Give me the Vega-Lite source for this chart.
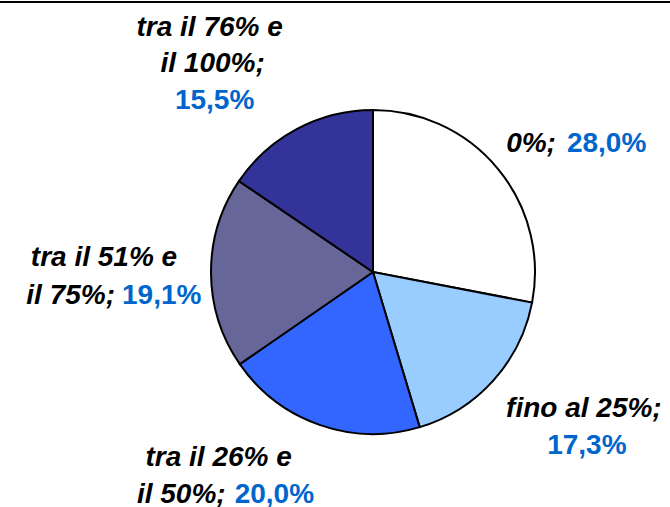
{
  "$schema": "https://vega.github.io/schema/vega-lite/v6.json",
  "autosize": {"type": "none"},
  "padding": {"left": -2, "top": 2, "right": -78, "bottom": -35},
  "width": 750,
  "height": 540,
  "background": "white",
  "config": {
    "view": {"stroke": null},
    "text": {"font": "Liberation Sans", "fontSize": 28, "fontWeight": "bold", "fontStyle": "italic", "baseline": "alphabetic", "radius": 210}
  },
  "data": {
    "values": [
      {"cat": "0%", "value": 28.0, "a": "0%;", "b": "", "pct": "28,0%"},
      {"cat": "fino al 25%", "value": 17.3, "a": "fino al 25%;", "b": "", "pct": "17,3%"},
      {"cat": "tra il 26% e il 50%", "value": 20.0, "a": "tra il 26% e", "b": "il 50%;", "pct": "20,0%"},
      {"cat": "tra il 51% e il 75%", "value": 19.1, "a": "tra il 51% e", "b": "il 75%;", "pct": "19,1%"},
      {"cat": "tra il 76% e il 100%", "value": 15.5, "a": "tra il 76% e", "b": "il 100%;", "pct": "15,5%"}
    ]
  },
  "layer": [
    {"mark": {"type": "rule", "color": "black", "strokeWidth": 2}, "encoding": {"y": {"value": 0}}},
    {
      "encoding": {
        "theta": {"field": "value", "type": "quantitative", "stack": true},
        "order": {"field": "cat", "type": "ordinal", "sort": "ascending"}
      },
      "layer": [
        {
          "mark": {"type": "arc", "outerRadius": 162, "stroke": "black", "strokeWidth": 2},
          "encoding": {
            "color": {"field": "cat", "type": "nominal", "legend": null,
              "scale": {"domain": ["0%", "fino al 25%", "tra il 26% e il 50%", "tra il 51% e il 75%", "tra il 76% e il 100%"],
                        "range": ["#FFFFFF", "#99CCFF", "#3366FF", "#666699", "#333399"]}}
          }
        },
        {"mark": {"type": "text", "align": "right", "dx": 21, "dy": 14, "color": "black"},
         "encoding": {"text": {"condition": {"test": "datum.cat === '0%'", "field": "a", "type": "nominal"}, "value": ""}}},
        {"mark": {"type": "text", "align": "left", "dx": 32, "dy": 14, "color": "#0066CC", "fontStyle": "normal"},
         "encoding": {"text": {"condition": {"test": "datum.cat === '0%'", "field": "pct", "type": "nominal"}, "value": ""}}},
        {"mark": {"type": "text", "align": "center", "dx": 55, "dy": 4, "color": "black"},
         "encoding": {"text": {"condition": {"test": "datum.cat === 'fino al 25%'", "field": "a", "type": "nominal"}, "value": ""}}},
        {"mark": {"type": "text", "align": "center", "dx": 58, "dy": 41, "color": "#0066CC", "fontStyle": "normal"},
         "encoding": {"text": {"condition": {"test": "datum.cat === 'fino al 25%'", "field": "pct", "type": "nominal"}, "value": ""}}},
        {"mark": {"type": "text", "align": "center", "dx": -85, "dy": -4, "color": "black"},
         "encoding": {"text": {"condition": {"test": "datum.cat === 'tra il 26% e il 50%'", "field": "a", "type": "nominal"}, "value": ""}}},
        {"mark": {"type": "text", "align": "right", "dx": -78, "dy": 33, "color": "black"},
         "encoding": {"text": {"condition": {"test": "datum.cat === 'tra il 26% e il 50%'", "field": "b", "type": "nominal"}, "value": ""}}},
        {"mark": {"type": "text", "align": "left", "dx": -69, "dy": 33, "color": "#0066CC", "fontStyle": "normal"},
         "encoding": {"text": {"condition": {"test": "datum.cat === 'tra il 26% e il 50%'", "field": "pct", "type": "nominal"}, "value": ""}}},
        {"mark": {"type": "text", "align": "center", "dx": -59, "dy": -7, "color": "black"},
         "encoding": {"text": {"condition": {"test": "datum.cat === 'tra il 51% e il 75%'", "field": "a", "type": "nominal"}, "value": ""}}},
        {"mark": {"type": "text", "align": "right", "dx": -48, "dy": 31, "color": "black"},
         "encoding": {"text": {"condition": {"test": "datum.cat === 'tra il 51% e il 75%'", "field": "b", "type": "nominal"}, "value": ""}}},
        {"mark": {"type": "text", "align": "left", "dx": -41, "dy": 31, "color": "#0066CC", "fontStyle": "normal"},
         "encoding": {"text": {"condition": {"test": "datum.cat === 'tra il 51% e il 75%'", "field": "pct", "type": "nominal"}, "value": ""}}},
        {"mark": {"type": "text", "align": "center", "dx": -65, "dy": -50, "color": "black"},
         "encoding": {"text": {"condition": {"test": "datum.cat === 'tra il 76% e il 100%'", "field": "a", "type": "nominal"}, "value": ""}}},
        {"mark": {"type": "text", "align": "center", "dx": -62, "dy": -14, "color": "black"},
         "encoding": {"text": {"condition": {"test": "datum.cat === 'tra il 76% e il 100%'", "field": "b", "type": "nominal"}, "value": ""}}},
        {"mark": {"type": "text", "align": "center", "dx": -60, "dy": 23, "color": "#0066CC", "fontStyle": "normal"},
         "encoding": {"text": {"condition": {"test": "datum.cat === 'tra il 76% e il 100%'", "field": "pct", "type": "nominal"}, "value": ""}}}
      ]
    }
  ]
}
